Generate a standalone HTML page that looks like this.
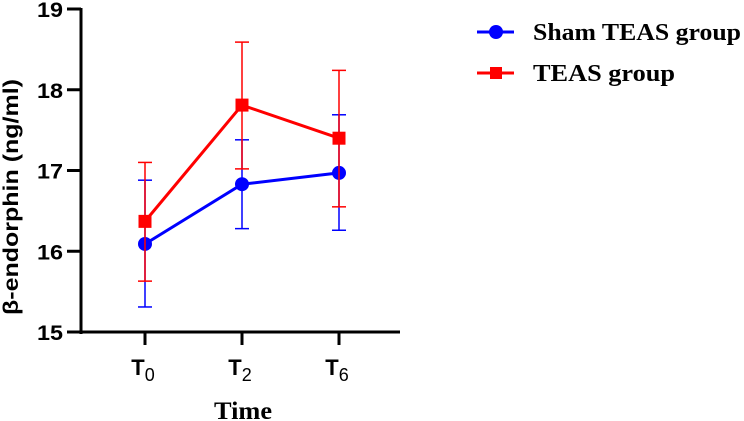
<!DOCTYPE html>
<html><head><meta charset="utf-8"><style>
html,body{margin:0;padding:0;background:#fff;}
svg{display:block;}
</style></head><body>
<svg id="chart" width="744" height="421" xmlns="http://www.w3.org/2000/svg">
<g id="axes"></g><g id="series"></g>
<text x="18" y="197" transform="rotate(-90 18 197)" text-anchor="middle" textLength="236" lengthAdjust="spacingAndGlyphs" font-family="Liberation Sans, sans-serif" font-weight="bold" font-size="21">β-endorphin (ng/ml)</text>
<text x="214" y="419" textLength="58" lengthAdjust="spacingAndGlyphs" font-family="Liberation Serif, serif" font-weight="bold" font-size="25">Time</text>
<g>
<g>
<line x1="477" y1="32" x2="514" y2="32" stroke="#0000ff" stroke-width="3"/>
<circle cx="496" cy="32" r="7" fill="#0000ff"/>
<text x="533" y="40" textLength="208" lengthAdjust="spacingAndGlyphs" font-family="Liberation Serif, serif" font-weight="bold" font-size="24">Sham TEAS group</text>
</g>
<g>
<line x1="477" y1="73" x2="514" y2="73" stroke="#ff0000" stroke-width="3"/>
<rect x="490" y="67" width="12" height="12" fill="#ff0000"/>
<text x="533" y="81" textLength="142" lengthAdjust="spacingAndGlyphs" font-family="Liberation Serif, serif" font-weight="bold" font-size="24">TEAS group</text>
</g>
</g>
</svg>
<script>
const categories=["0","2","6"];
const shamMean=[16.09,16.83,16.97];
const shamUpper=[16.88,17.38,17.69];
const shamLower=[15.31,16.28,16.26];
const teasMean=[16.37,17.81,17.40];
const teasUpper=[17.10,18.59,18.24];
const teasLower=[15.63,17.02,16.55];
const yTicks=[15,16,17,18,19];

const NS="http://www.w3.org/2000/svg";
const y=v=>332-(v-15)*80.75;
const x=i=>145+i*97;
function mk(tag,attrs,parent){const e=document.createElementNS(NS,tag);for(const k in attrs)e.setAttribute(k,attrs[k]);parent.appendChild(e);return e;}
const axes=document.getElementById('axes');
let a=mk('line',{x1:81,y1:y(19)-1,x2:81,y2:334,stroke:'#000','stroke-width':3},axes);


a=mk('line',{x1:80,y1:332,x2:400,y2:332,stroke:'#000','stroke-width':3},axes);


yTicks.forEach(t=>{
 mk('line',{x1:67,y1:y(t),x2:81,y2:y(t),stroke:'#000','stroke-width':3},axes);
 const tx=mk('text',{x:37,y:y(t)+8,textLength:26,lengthAdjust:'spacingAndGlyphs','font-family':'Liberation Sans, sans-serif','font-weight':'bold','font-size':21},axes);
 tx.textContent=t;
 
 
});
categories.forEach((c,i)=>{
 mk('line',{x1:x(i),y1:332,x2:x(i),y2:345,stroke:'#000','stroke-width':3},axes);
 const tx=mk('text',{x:x(i)-2,y:375,'text-anchor':'middle','font-family':'Liberation Sans, sans-serif','font-size':22},axes);
 
 
 const t1=mk('tspan',{'font-weight':'bold'},tx);t1.textContent='T';
 const t2=mk('tspan',{'font-size':18,dy:6},tx);t2.textContent=c;
});
const series=document.getElementById('series');
function draw(name,mean,up,lo,color,marker){
 const g=mk('g',{},series);
 
 
 mean.forEach((m,i)=>{
  mk('line',{x1:x(i),y1:y(up[i]),x2:x(i),y2:y(lo[i]),stroke:color,'stroke-width':1.5},g);
  mk('line',{x1:x(i)-7,y1:y(up[i]),x2:x(i)+7,y2:y(up[i]),stroke:color,'stroke-width':1.5},g);
  mk('line',{x1:x(i)-7,y1:y(lo[i]),x2:x(i)+7,y2:y(lo[i]),stroke:color,'stroke-width':1.5},g);
 });
 mk('polyline',{points:mean.map((m,i)=>x(i)+','+y(m)).join(' '),fill:'none',stroke:color,'stroke-width':3},g);
 mean.forEach((m,i)=>{
  let p;
  if(marker==='circle')p=mk('circle',{cx:x(i),cy:y(m),r:7,fill:color},g);
  else p=mk('rect',{x:x(i)-6.5,y:y(m)-6.5,width:13,height:13,fill:color},g);
  
  
 });
}
draw('sham-teas-series',shamMean,shamUpper,shamLower,'#0000ff','circle');
draw('teas-series',teasMean,teasUpper,teasLower,'#ff0000','square');
</script>
</body></html>
